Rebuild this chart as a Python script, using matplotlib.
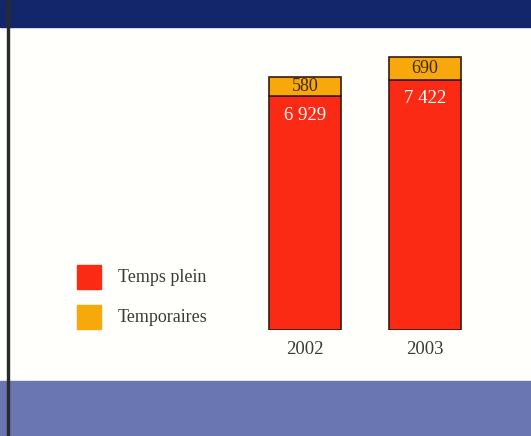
import matplotlib.pyplot as plt
from matplotlib.patches import Rectangle

years = ["2002", "2003"]
temps_plein = [6929, 7422]
temporaires = [580, 690]
series_names = ["Temps plein", "Temporaires"]

RED = "#fb2a14"
ORANGE = "#f7a80a"
NAVY = "#13266a"
SLATE = "#6a76b2"

W, H = 531, 436
fig = plt.figure(figsize=(W / 100, H / 100), dpi=100)
fig.patch.set_facecolor("#fffffb")

serif = ["Liberation Serif", "DejaVu Serif"]

# bands at top and bottom, thin rule down the left
bg = fig.add_axes([0, 0, 1, 1])
bg.set_xlim(0, W)
bg.set_ylim(H, 0)
bg.axis("off")
bg.add_patch(Rectangle((0, 0), W, 27, color=NAVY))
bg.add_patch(Rectangle((0, 381), W, H - 381, color=SLATE))
bg.add_patch(Rectangle((6.5, 0), 2, H, color="#2a2a2a"))

# bar area: baseline at y=330 px, 0.0337 px per unit
px_per_unit = 0.0337
top_px = 30
ax = fig.add_axes([245 / W, (H - 330) / H, 240 / W, (330 - top_px) / H])
ax.set_xlim(-0.5, 1.5)
ax.set_ylim(0, (330 - top_px) / px_per_unit)
ax.axis("off")

x = range(len(years))
ax.bar(x, temps_plein, width=0.6, color=RED, edgecolor="#3a1a10", linewidth=1.2)
ax.bar(x, temporaires, width=0.6, bottom=temps_plein, color=ORANGE,
       edgecolor="#3a1a10", linewidth=1.2)

for i, (full, temp) in enumerate(zip(temps_plein, temporaires)):
    ax.text(i, full + temp / 2, f"{temp}", ha="center", va="center",
            fontsize=13, color="#3a2a10", family=serif)
    ax.text(i, full - 560, f"{full:,}".replace(",", " "), ha="center",
            va="center", fontsize=13.5, color="white", family=serif)
    ax.text(i, -580, years[i], ha="center", va="center", fontsize=13.5,
            color="#3a3a38", family=serif)

# legend squares with labels
for name, col, cy in zip(series_names, [RED, ORANGE], [277, 317]):
    bg.add_patch(Rectangle((77, cy - 12), 24, 24, color=col))
    bg.text(118, cy, name, ha="left", va="center", fontsize=13,
            color="#3a3a38", family=serif)

fig.savefig("out.png", dpi=100, facecolor=fig.get_facecolor())
